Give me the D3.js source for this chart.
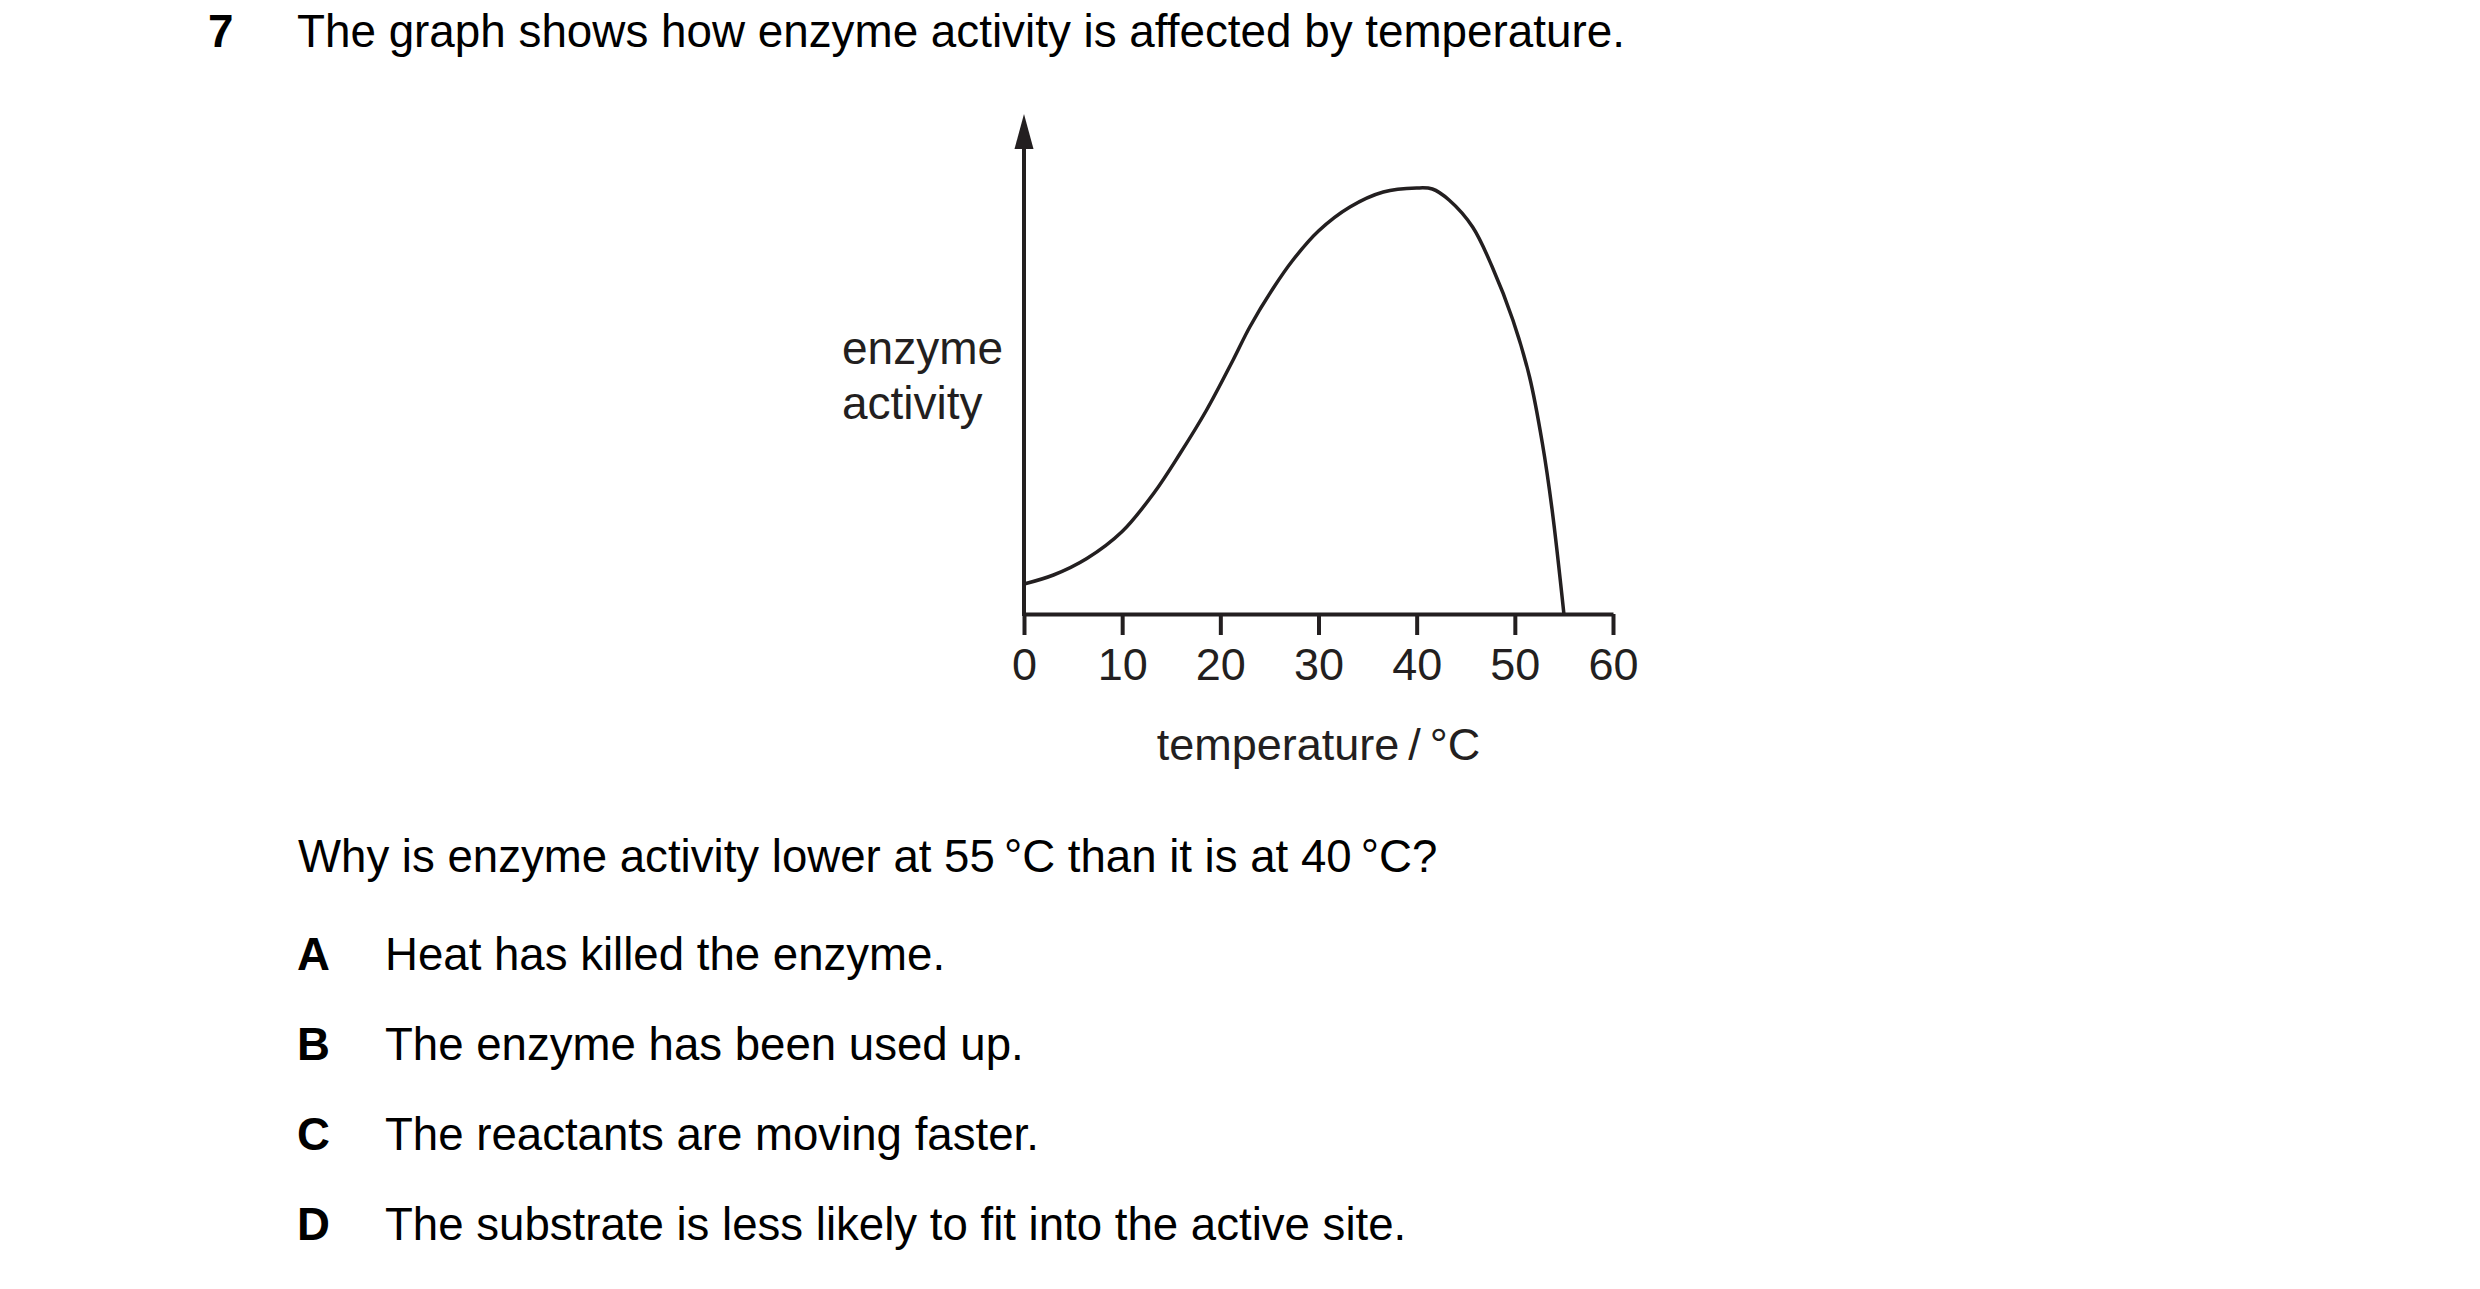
<!doctype html>
<html lang="en">
<head>
  <meta charset="UTF-8">
  <title>Enzyme activity</title>
  <script src="https://cdn.jsdelivr.net/npm/d3@7"></script>
  <style>
    body { margin: 0; background: #fff; }
    text { font-family: "Liberation Sans", Arial, sans-serif; }
  </style>
</head>
<body>
<div id="container"></div>
<script type="text/javascript">
// values (activity in arbitrary units, 0..100 = axis height)
var temps    = [0, 3, 6.4, 10, 13.2, 15.9, 18.6, 21.3, 23, 25.4, 27.4, 30, 33.2, 36.6, 40, 41.6, 43.3, 45.7, 47.7, 49.8, 51.5, 52.8, 53.8, 55];
var activity = [6.0, 7.8, 11.1, 16.5, 24.1, 32.1, 40.8, 50.8, 57.4, 65.2, 70.8, 76.6, 81.4, 84.4, 85.2, 85.0, 82.8, 77.4, 69.4, 58.8, 47.4, 34.2, 20.8, 0];
var xTicks = [0, 10, 20, 30, 40, 50, 60];

var questionNo = '7';
var intro = 'The graph shows how enzyme activity is affected by temperature.';
var question = 'Why is enzyme activity lower at 55\u2009\u00b0C than it is at 40\u2009\u00b0C?';
var optionKeys = ['A', 'B', 'C', 'D'];
var optionTexts = [
  'Heat has killed the enzyme.',
  'The enzyme has been used up.',
  'The reactants are moving faster.',
  'The substrate is less likely to fit into the active site.'
];
var yLabel = ['enzyme', 'activity'];
var xLabel = 'temperature\u2009/\u2009\u00b0C';

var width = 2480, height = 1289;
var ink = '#231f20';
var bodySize = '45.6px';

var svg = d3.select('#container').append('svg')
  .attr('width', width)
  .attr('height', height);

svg.append('rect').attr('width', width).attr('height', height).attr('fill', '#fff');

// question text
svg.append('text')
  .attr('x', 208).attr('y', 47)
  .style('font-size', '45.8px').style('font-weight', 'bold')
  .text(questionNo);
svg.append('text')
  .attr('x', 297).attr('y', 47)
  .style('font-size', '45.8px')
  .text(intro);

// chart
var x = d3.scaleLinear().domain([0, 60]).range([1024, 1613]);
var y = d3.scaleLinear().domain([0, 100]).range([614, 114]);

var xAxis = d3.axisBottom(x)
  .tickValues(xTicks)
  .tickSize(21)
  .tickSizeOuter(0)
  .tickPadding(13);

var gx = svg.append('g')
  .attr('transform', 'translate(0,' + y(0) + ')')
  .call(xAxis);
gx.select('.domain').attr('stroke', ink).attr('stroke-width', 4);
gx.selectAll('.tick line').attr('stroke', ink).attr('stroke-width', 4);
gx.selectAll('.tick text')
  .attr('fill', ink)
  .style('font-size', '45px')
  .style('font-family', '"Liberation Sans", Arial, sans-serif');

// y axis with arrow head
var arrowLen = 35, arrowHalf = 9.5;
svg.append('line')
  .attr('x1', x(0)).attr('x2', x(0))
  .attr('y1', y(0) + 2).attr('y2', y(100) + arrowLen - 2)
  .attr('stroke', ink).attr('stroke-width', 4);
svg.append('path')
  .attr('d', 'M' + x(0) + ',' + y(100) +
             'L' + (x(0) + arrowHalf) + ',' + (y(100) + arrowLen) +
             'L' + (x(0) - arrowHalf) + ',' + (y(100) + arrowLen) + 'Z')
  .attr('fill', ink);

var line = d3.line()
  .x(function(d, i) { return x(temps[i]); })
  .y(function(d) { return y(d); })
  .curve(d3.curveCatmullRom.alpha(0.5));

svg.append('path')
  .datum(activity)
  .attr('d', line)
  .attr('fill', 'none')
  .attr('stroke', ink)
  .attr('stroke-width', 3.5)
  .attr('stroke-linejoin', 'round');

// axis labels
svg.selectAll('.ylabel')
  .data(yLabel)
  .enter().append('text')
  .attr('class', 'ylabel')
  .attr('x', 842)
  .attr('y', function(d, i) { return 364 + i * 55; })
  .attr('fill', ink)
  .style('font-size', '46px')
  .text(function(d) { return d; });

svg.append('text')
  .attr('x', x(30)).attr('y', 760)
  .attr('text-anchor', 'middle')
  .attr('fill', ink)
  .style('font-size', '45px')
  .text(xLabel);

// question and options
svg.append('text')
  .attr('x', 298).attr('y', 872)
  .style('font-size', bodySize)
  .text(question);

var opts = svg.selectAll('.option')
  .data(optionTexts)
  .enter().append('g')
  .attr('class', 'option')
  .attr('transform', function(d, i) { return 'translate(0,' + (970 + i * 90) + ')'; });

opts.append('text')
  .attr('x', 297)
  .style('font-size', bodySize).style('font-weight', 'bold')
  .text(function(d, i) { return optionKeys[i]; });

opts.append('text')
  .attr('x', 385)
  .style('font-size', bodySize)
  .text(function(d) { return d; });
</script>
</body>
</html>
